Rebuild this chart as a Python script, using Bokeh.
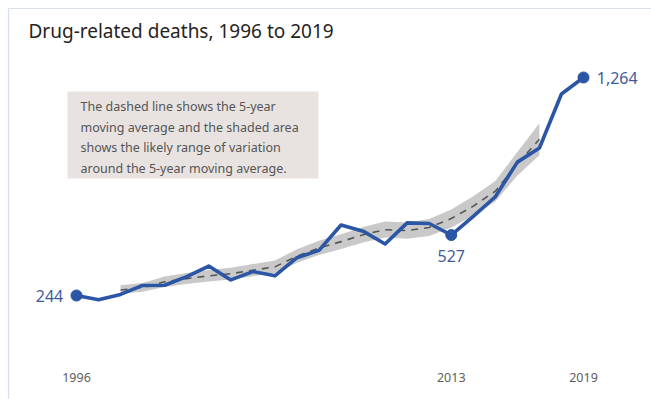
from bokeh.plotting import figure
from bokeh.models import Range1d
from bokeh.core.properties import value
from bokeh.embed import file_html
from bokeh.resources import INLINE

# ---- data ----
years = list(range(1996, 2020))
deaths = [244, 224, 249, 291, 292, 332, 382, 317, 356, 336, 421, 455,
          574, 545, 485, 584, 581, 527, 614, 706, 868, 934, 1187, 1264]

ma_years = list(range(1998, 2018))
ma = [270, 281, 308, 323, 336, 346, 362, 378, 428, 466,
      496, 528, 552, 548, 562, 604, 662, 732, 860, 975]
ma_low = [252, 262, 284, 298, 310, 319, 334, 349, 397, 433,
          462, 492, 515, 510, 522, 562, 617, 684, 805, 900]
ma_high = [292, 302, 333, 349, 363, 374, 391, 408, 460, 500,
           531, 565, 590, 586, 602, 646, 708, 780, 915, 1050]

tick_years = [1996, 2013, 2019]
tick_labels = ["1996", "2013", "2019"]
highlight_years = [1996, 2013, 2019]
highlight_values = [244, 527, 1264]
highlight_labels = ["244", "527", "1,264"]

title = "Drug-related deaths, 1996 to 2019"
note_lines = ["The dashed line shows the 5-year",
              "moving average and the shaded area",
              "shows the likely range of variation",
              "around the 5-year moving average."]

# ---- layout (pixel <-> data) ----
W, H = 651, 399
PX_X0, PX_X1 = 76.0, 583.0     # pixel of first / last year
PX_Y0, PX_Y1 = 295.0, 77.0     # pixel of first / last value
sx = (PX_X1 - PX_X0) / (years[-1] - years[0])
sy = (PX_Y0 - PX_Y1) / (deaths[-1] - deaths[0])
x_start = years[0] - PX_X0 / sx
x_end = x_start + W / sx
y_top = deaths[0] + PX_Y0 / sy
y_bot = y_top - H / sy

def xd(px):
    return x_start + px / sx

def yd(py):
    return y_top - py / sy

FONT = value("Noto Sans")

p = figure(width=W, height=H, output_backend="svg", toolbar_location=None,
           x_range=Range1d(x_start, x_end), y_range=Range1d(y_bot, y_top),
           min_border=0, min_border_left=0, min_border_right=0,
           min_border_top=0, min_border_bottom=0)
p.xaxis.visible = False
p.yaxis.visible = False
p.xgrid.visible = False
p.ygrid.visible = False
p.outline_line_color = None
p.background_fill_color = "white"
p.border_fill_color = "white"

# card border
p.quad(left=[xd(8)], right=[xd(720)], top=[yd(8)], bottom=[yd(430)],
       fill_color=None, line_color="#d9dfee", line_width=1.2)

# title
p.text(x=[xd(28)], y=[yd(30)], text=[title], text_font=FONT,
       text_font_size="19px", text_color="#252423", text_baseline="middle")

# note box
p.quad(left=[xd(67)], right=[xd(318)], top=[yd(91)], bottom=[yd(178)],
       fill_color="#e8e3e1", line_color=None)
p.text(x=[xd(80)] * 4, y=[yd(106), yd(126.5), yd(147), yd(167.5)],
       text=note_lines, text_font=FONT, text_font_size="12.5px",
       text_color="#555555", text_baseline="middle")

# band + moving average
p.varea(x=ma_years, y1=ma_low, y2=ma_high, fill_color="#c9c9c9")
p.line(ma_years, ma, line_color="#555555", line_width=1.6, line_dash="7 6")

# main line
p.line(years, deaths, line_color="#2b55a5", line_width=3.6,
       line_join="round", line_cap="round")
p.scatter(highlight_years, highlight_values, size=11, fill_color="#2b55a5",
          line_color="#2b55a5")

# value labels
lab_color = "#3f5a9c"
p.text(x=[highlight_years[0] - 0.6], y=[highlight_values[0]],
       text=[highlight_labels[0]], text_font=FONT, text_font_size="16px",
       text_color=lab_color, text_align="right", text_baseline="middle")
p.text(x=[highlight_years[1]], y=[highlight_values[1] - 100],
       text=[highlight_labels[1]], text_font=FONT, text_font_size="16px",
       text_color=lab_color, text_align="center", text_baseline="middle")
p.text(x=[highlight_years[2] + 0.6], y=[highlight_values[2]],
       text=[highlight_labels[2]], text_font=FONT, text_font_size="16px",
       text_color=lab_color, text_align="left", text_baseline="middle")

# x tick labels
p.text(x=tick_years, y=[yd(377)] * len(tick_years), text=tick_labels,
       text_font=FONT, text_font_size="12.5px", text_color="#605e5c",
       text_align="center", text_baseline="middle")

open("out.html", "w").write(file_html(p, INLINE))
